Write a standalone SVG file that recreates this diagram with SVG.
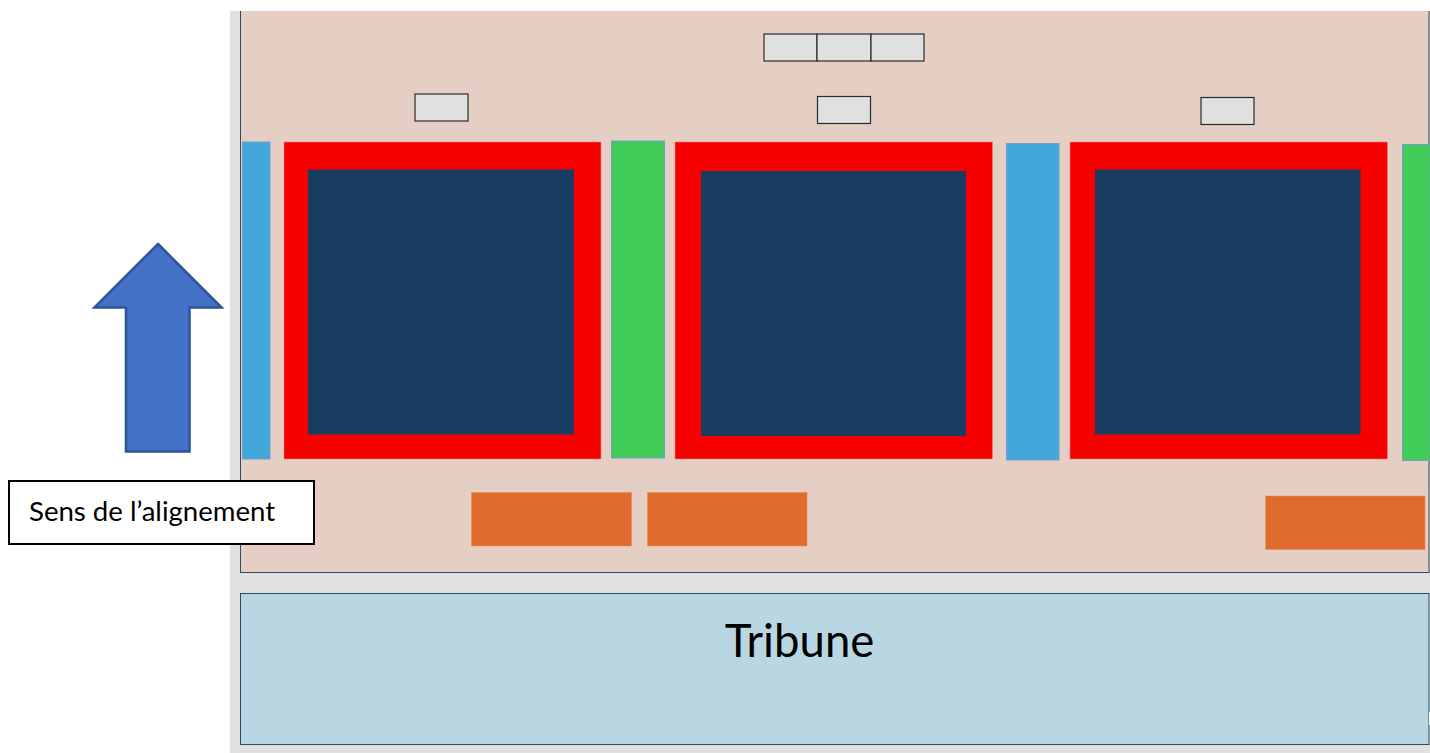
<svg xmlns="http://www.w3.org/2000/svg" width="1430" height="753" viewBox="0 0 1430 753">
<style>
.zone{stroke:#2c4d60;stroke-width:1}
.small{fill:#e0e0e0;stroke:#2b2b2b;stroke-width:1.2}
.blue{fill:#43a7d9;stroke:#6f9fd0;stroke-width:1}
.green{fill:#43cb57;stroke:#6f9fd0;stroke-width:1}
.red{fill:#f70000;stroke:#f08080;stroke-width:.6}
.navy{fill:#183c62}
.orange{fill:#df6c2e;stroke:#e88a58;stroke-width:.6}
text{font-family:Lato,"Liberation Sans",sans-serif;fill:#000}
</style>
<rect width="1430" height="753" fill="#fff"/>
<rect id="floor" x="230" y="11" width="1200" height="742" fill="#e0e0e0"/>
<g id="terrain"><rect class="zone" x="240.500" y="5" width="1188.500" height="567.500" fill="#e5cfc4"/><rect x="236" y="0" width="1194" height="11" fill="#fff"/></g>
<g id="tribune"><rect class="zone" x="240.500" y="593.500" width="1188.500" height="151" fill="#b8d7e2"/><text x="799.500" y="657" font-size="45.500" text-anchor="middle">Tribune</text></g>
<rect id="notch" x="1429" y="712" width="1" height="13" fill="#fff"/>
<g id="small-top-1"><rect class="small" x="764" y="34" width="53" height="27"/></g>
<g id="small-top-2"><rect class="small" x="817" y="34" width="54" height="27"/></g>
<g id="small-top-3"><rect class="small" x="871" y="34" width="53" height="27"/></g>
<g id="small-1"><rect class="small" x="415" y="94" width="53" height="27"/></g>
<g id="small-2"><rect class="small" x="817.500" y="96.500" width="53" height="27"/></g>
<g id="small-3"><rect class="small" x="1201" y="97.500" width="53" height="27"/></g>
<g id="strip-1"><rect class="blue" x="242.500" y="142" width="27.500" height="317"/></g>
<g id="court-1"><rect class="red" x="284" y="142" width="317" height="317"/><rect class="navy" x="308" y="169.500" width="266" height="265"/></g>
<g id="strip-2"><rect class="green" x="611.500" y="141" width="53" height="317"/></g>
<g id="court-2"><rect class="red" x="675" y="142" width="317.500" height="317"/><rect class="navy" x="701" y="171" width="265" height="265"/></g>
<g id="strip-3"><rect class="blue" x="1006.500" y="143.500" width="52.500" height="316.500"/></g>
<g id="court-3"><rect class="red" x="1070" y="142" width="317.500" height="317"/><rect class="navy" x="1095" y="169.500" width="265.500" height="265"/></g>
<g id="strip-4"><rect class="green" x="1402.500" y="144.500" width="27.500" height="316"/></g>
<g id="bench-1"><rect class="orange" x="471.500" y="492.500" width="160" height="53.500"/></g>
<g id="bench-2"><rect class="orange" x="647.500" y="492.500" width="159.500" height="53.500"/></g>
<g id="bench-3"><rect class="orange" x="1265.500" y="496" width="159.500" height="53.500"/></g>
<g id="arrow"><polygon points="158,244 221.500,307.500 189.500,307.500 189.500,451.500 126,451.500 126,307.500 94.500,307.500" fill="#4472c8" stroke="#2f5597" stroke-width="2.600"/></g>
<g id="label"><rect x="9" y="481" width="305" height="63" fill="#fff" stroke="#000" stroke-width="2"/><text x="29" y="521" font-size="27.600">Sens de l’alignement</text></g>
</svg>
